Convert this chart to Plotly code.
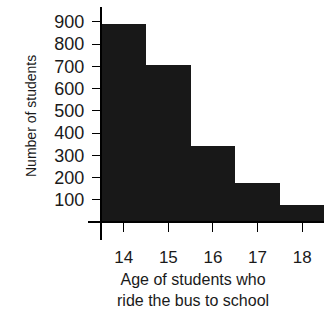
import plotly.graph_objects as go

ages = [14, 15, 16, 17, 18]
students = [890, 705, 340, 177, 78]
y_ticks = [0, 100, 200, 300, 400, 500, 600, 700, 800, 900]
y_tick_labels = ["", "100", "200", "300", "400", "500", "600", "700", "800", "900"]
x_title = "Age of students who<br>ride the bus to school"
y_title = "Number of students"

FONT = "Liberation Sans, Arial, sans-serif"
INK = "#1a1a1a"

fig = go.Figure(go.Bar(x=ages, y=students, width=1, hoverinfo="skip",
                       marker=dict(color="#181818", line=dict(width=0))))

W, H = 324, 310
L, R, T, B = 101, 0, 8, 88
pw, ph = W - L - R, H - T - B

fig.update_layout(
    width=W, height=H,
    margin=dict(l=L, r=R, t=T, b=B, pad=0),
    paper_bgcolor="white", plot_bgcolor="white",
    showlegend=False, bargap=0,
    xaxis=dict(range=[13.49, 18.49], tickvals=ages, ticks="outside", ticklen=9, tickwidth=1,
               tickcolor="black", showgrid=False, zeroline=False, showline=False, automargin=False,
               tickfont=dict(family=FONT, size=17, color=INK), ticklabelstandoff=11),
    yaxis=dict(range=[0, 962], tickvals=y_ticks, ticktext=y_tick_labels, ticks="outside",
               ticklen=8, tickwidth=1, tickcolor="black", showgrid=False, zeroline=False,
               showline=False, automargin=False, tickfont=dict(family=FONT, size=18, color=INK),
               ticklabelstandoff=4),
    shapes=[
        dict(type="line", xref="paper", yref="paper", x0=0, x1=0, y0=-18 / ph, y1=1.0 + 1 / ph,
             line=dict(color="black", width=2), layer="above"),
        dict(type="line", xref="paper", yref="paper", x0=-13 / pw, x1=1, y0=0, y1=0,
             line=dict(color="black", width=2), layer="above"),
    ],
    annotations=[
        dict(text=x_title, xref="paper", yref="paper", x=(193 - L) / pw, y=-(290 - T - ph) / ph,
             xanchor="center", yanchor="middle", showarrow=False,
             font=dict(family=FONT, size=16, color=INK), align="center"),
        dict(text=y_title, xref="paper", yref="paper", x=-(L - 31) / pw, y=(ph - (116 - T)) / ph,
             xanchor="center", yanchor="middle", showarrow=False, textangle=-90,
             font=dict(family=FONT, size=14, color=INK)),
    ],
)

fig.write_html("out.html", config={"displayModeBar": False},
               post_script="document.body.style.margin='0';")
